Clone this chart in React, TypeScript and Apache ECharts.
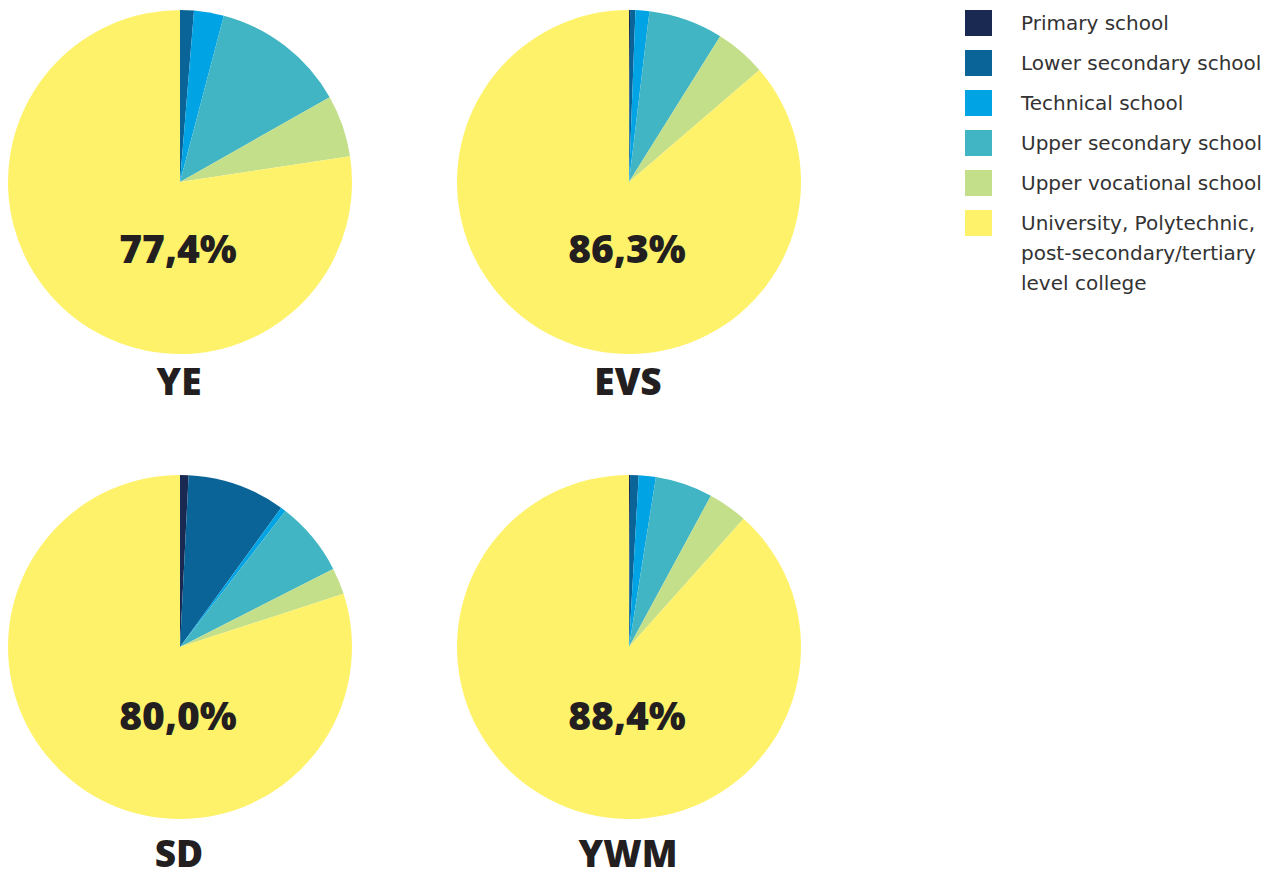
import React, { useEffect, useRef } from "react";
import * as echarts from "echarts";

const categories = [
  "Primary school",
  "Lower secondary school",
  "Technical school",
  "Upper secondary school",
  "Upper vocational school",
  "University, Polytechnic, post-secondary/tertiary level college",
];
const legendLabels = [
  "Primary school",
  "Lower secondary school",
  "Technical school",
  "Upper secondary school",
  "Upper vocational school",
  "University, Polytechnic,\npost-secondary/tertiary\nlevel college",
];
const colors = ["#1a2951", "#0b6497", "#00a3e4", "#41b5c4", "#c3df8a", "#fff26b"];

const groups = ["YE", "EVS", "SD", "YWM"];
const valuesYE = [0.0, 1.3, 2.8, 12.7, 5.8, 77.4];
const valuesEVS = [0.1, 0.5, 1.3, 7.0, 4.8, 86.3];
const valuesSD = [0.8, 9.2, 0.5, 7.0, 2.5, 80.0];
const valuesYWM = [0.1, 0.8, 1.6, 5.4, 3.7, 88.4];
const highlightLabels = ["77,4%", "86,3%", "80,0%", "88,4%"];

const allValues = [valuesYE, valuesEVS, valuesSD, valuesYWM];
const centers: [number, number][] = [
  [180, 182],
  [629, 182],
  [180, 647],
  [629, 647],
];
const pctOffsets = [65, 65, 67, 67];
const titleOffsets = [198, 198, 205, 205];

export default function App() {
  const ref = useRef<HTMLDivElement>(null);
  useEffect(() => {
    if (!ref.current) return;
    const chart = echarts.init(ref.current, undefined, { renderer: "svg" });
    const textColor = "#231f20";
    const series = allValues.map((vals, i) => ({
      type: "pie",
      name: groups[i],
      center: centers[i],
      radius: [0, 172],
      startAngle: 90,
      clockwise: true,
      silent: true,
      label: { show: false },
      labelLine: { show: false },
      itemStyle: { borderWidth: 0 },
      data: vals.map((v, j) => ({
        name: categories[j],
        value: v,
        itemStyle: { color: colors[j] },
      })),
    }));
    const graphic: any[] = [];
    groups.forEach((g, i) => {
      graphic.push({
        type: "text",
        x: centers[i][0] - 2,
        y: centers[i][1] + pctOffsets[i],
        z: 10,
        style: {
          text: highlightLabels[i],
          align: "center",
          verticalAlign: "middle",
          fontFamily: "Open Sans",
          fontWeight: 800,
          fontSize: 39,
          fill: textColor,
        },
      });
      graphic.push({
        type: "text",
        x: centers[i][0] - 1,
        y: centers[i][1] + titleOffsets[i],
        z: 10,
        style: {
          text: g,
          align: "center",
          verticalAlign: "middle",
          fontFamily: "Open Sans",
          fontWeight: 800,
          fontSize: 37,
          lineHeight: 30,
          fill: textColor,
        },
      });
    });
    legendLabels.forEach((lab, i) => {
      graphic.push({
        type: "rect",
        x: 965,
        y: 10 + i * 40,
        shape: { width: 27, height: 26 },
        style: { fill: colors[i] },
      });
      graphic.push({
        type: "text",
        x: 1021,
        y: 8 + i * 40,
        style: {
          text: lab,
          verticalAlign: "top",
          fontFamily: "DejaVu Sans",
          fontSize: 20,
          lineHeight: 30,
          fill: "#333333",
        },
      });
    });
    chart.setOption({
      animation: false,
      series,
      graphic,
    });
    return () => chart.dispose();
  }, []);
  return (
    <div
      ref={ref}
      style={{ position: "fixed", left: 0, top: 0, width: 1281, height: 871, background: "#fff" }}
    />
  );
}
